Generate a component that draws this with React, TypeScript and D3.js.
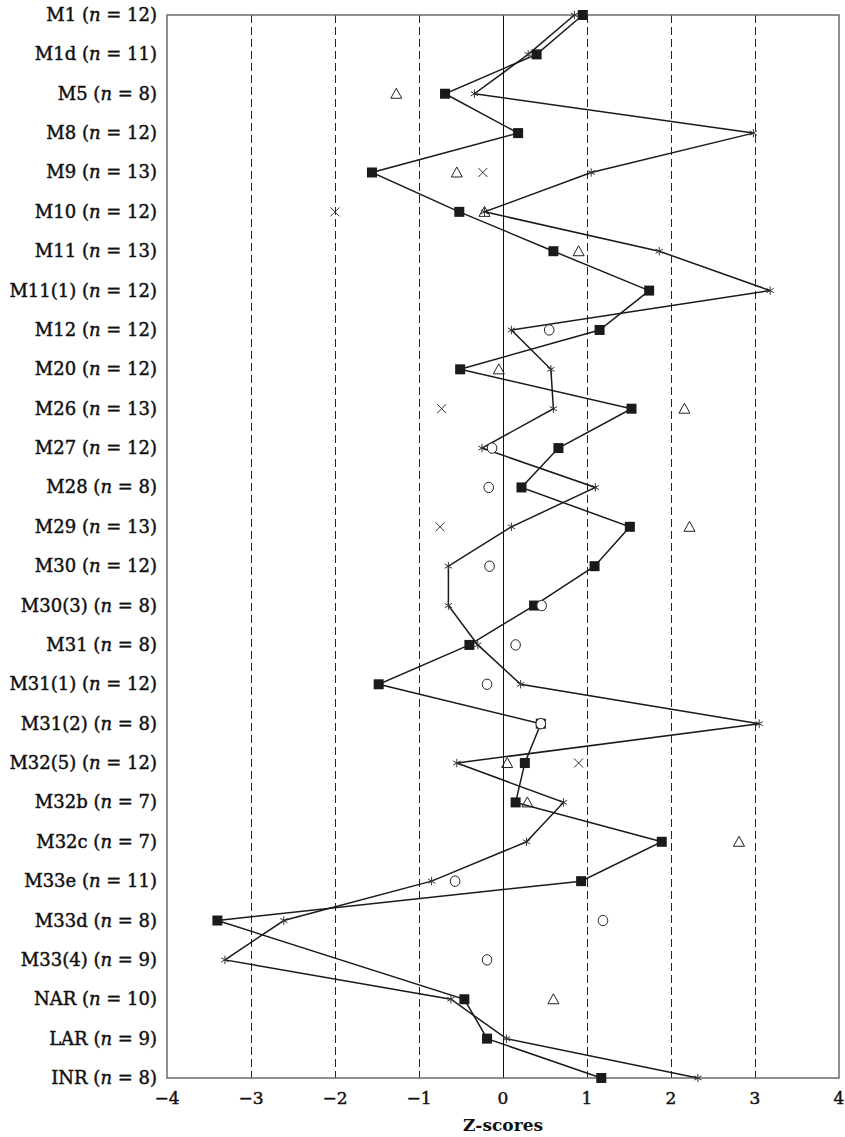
import React from "react";
import * as d3 from "d3";

// Sites (rows, top to bottom) and their sample sizes
const sites = [
  "M1", "M1d", "M5", "M8", "M9", "M10", "M11", "M11(1)", "M12", "M20",
  "M26", "M27", "M28", "M29", "M30", "M30(3)", "M31", "M31(1)", "M31(2)",
  "M32(5)", "M32b", "M32c", "M33e", "M33d", "M33(4)", "NAR", "LAR", "INR",
];
const sampleSizes = [
  12, 11, 8, 12, 13, 12, 13, 12, 12, 12, 13, 12, 8, 13, 12, 8, 8, 12, 8,
  12, 7, 7, 11, 8, 9, 10, 9, 8,
];

// Z-scores per site for each measure (null = not measured)
const squareScores: (number | null)[] = [
  0.95, 0.40, -0.69, 0.18, -1.56, -0.52, 0.60, 1.74, 1.15, -0.51, 1.53, 0.66,
  0.22, 1.51, 1.09, 0.37, -0.40, -1.48, 0.45, 0.26, 0.15, 1.89, 0.93, -3.40,
  null, -0.46, -0.19, 1.17,
];
const asteriskScores: (number | null)[] = [
  0.85, 0.30, -0.34, 2.98, 1.05, -0.22, 1.86, 3.18, 0.10, 0.57, 0.60, -0.25,
  1.10, 0.10, -0.65, -0.65, -0.30, 0.21, 3.05, -0.55, 0.72, 0.28, -0.85, -2.61,
  -3.31, -0.62, 0.04, 2.32,
];
const triangleScores: (number | null)[] = [
  null, null, -1.27, null, -0.55, -0.22, 0.90, null, null, -0.05, 2.16, null,
  null, 2.22, null, null, null, null, null, 0.05, 0.29, 2.81, null, null,
  null, 0.60, null, null,
];
const crossScores: (number | null)[] = [
  null, null, null, null, -0.24, -2.00, null, null, null, null, -0.73, null,
  null, -0.75, null, null, null, null, null, 0.90, null, null, null, null,
  null, null, null, null,
];
const circleScores: (number | null)[] = [
  null, null, null, null, null, null, null, null, 0.55, null, null, -0.13,
  -0.17, null, -0.16, 0.46, 0.15, -0.19, 0.45, null, null, null, -0.57, 1.19,
  -0.19, null, null, null,
];

const xTicks = [-4, -3, -2, -1, 0, 1, 2, 3, 4];
const gridValues = [-3, -2, -1, 1, 2, 3];

const WIDTH = 845;
const HEIGHT = 1137;
const FONT = "'DejaVu Serif', 'Liberation Serif', serif";

type Pt = { x: number; y: number };

function points(values: (number | null)[], x: d3.ScaleLinear<number, number>, y: d3.ScalePoint<string>): Pt[] {
  const out: Pt[] = [];
  values.forEach((v, i) => {
    if (v != null) out.push({ x: x(v), y: y(sites[i]) as number });
  });
  return out;
}

export default function App() {
  const left = 167;
  const right = 839;
  const top = 15;
  const bottom = 1078;

  const x = d3.scaleLinear().domain([-4, 4]).range([left, right]);
  const y = d3.scalePoint<string>().domain(sites).range([top, bottom]);

  const line = d3
    .line<Pt>()
    .x((d) => d.x)
    .y((d) => d.y);

  const sq = points(squareScores, x, y);
  const ast = points(asteriskScores, x, y);
  const tri = points(triangleScores, x, y);
  const crs = points(crossScores, x, y);
  const cir = points(circleScores, x, y);

  const ink = "#1a1a1a";
  // slight outline so the serif text reads with a heavier weight
  const textStroke = { stroke: "#111", strokeWidth: 0.45 };

  return (
    <svg
      width={WIDTH}
      height={HEIGHT}
      viewBox={`0 0 ${WIDTH} ${HEIGHT}`}
      style={{ position: "absolute", left: 0, top: 0, background: "#fff" }}
    >
      {/* reference lines */}
      {gridValues.map((g) => (
        <line
          key={g}
          x1={x(g) + 0.5}
          x2={x(g) + 0.5}
          y1={top}
          y2={bottom}
          stroke="#222"
          strokeWidth={1}
          strokeDasharray="8 4"
        />
      ))}
      <line x1={x(0) + 0.5} x2={x(0) + 0.5} y1={top} y2={bottom} stroke="#111" strokeWidth={1} />

      {/* frame */}
      <rect
        x={left}
        y={top}
        width={right - left}
        height={bottom - top}
        fill="none"
        stroke="#6b6b6b"
        strokeWidth={1.5}
      />

      {/* connected series */}
      <path d={line(sq) ?? ""} fill="none" stroke={ink} strokeWidth={1.5} />
      <path d={line(ast) ?? ""} fill="none" stroke={ink} strokeWidth={1.5} />

      {/* filled squares */}
      {sq.map((p, i) => (
        <rect key={`s${i}`} x={p.x - 5} y={p.y - 5} width={10} height={10} fill={ink} />
      ))}

      {/* asterisks */}
      {ast.map((p, i) => (
        <g key={`a${i}`} stroke="#333" strokeWidth={1}>
          {[90, 30, 150].map((deg) => {
            const r = 4.2;
            const a = (deg * Math.PI) / 180;
            return (
              <line
                key={deg}
                x1={p.x - r * Math.cos(a)}
                y1={p.y - r * Math.sin(a)}
                x2={p.x + r * Math.cos(a)}
                y2={p.y + r * Math.sin(a)}
              />
            );
          })}
        </g>
      ))}

      {/* open triangles */}
      {tri.map((p, i) => (
        <path
          key={`t${i}`}
          d={`M${p.x},${p.y - 5.5} L${p.x + 5.5},${p.y + 4.5} L${p.x - 5.5},${p.y + 4.5} Z`}
          fill="none"
          stroke="#222"
          strokeWidth={1}
        />
      ))}

      {/* crosses */}
      {crs.map((p, i) => (
        <path
          key={`c${i}`}
          d={`M${p.x - 4.5},${p.y - 4.5} L${p.x + 4.5},${p.y + 4.5} M${p.x + 4.5},${p.y - 4.5} L${p.x - 4.5},${p.y + 4.5}`}
          stroke="#333"
          strokeWidth={1}
        />
      ))}

      {/* open circles */}
      {cir.map((p, i) => (
        <ellipse
          key={`o${i}`}
          cx={p.x}
          cy={p.y}
          rx={4.8}
          ry={5.2}
          fill="#fff"
          stroke="#222"
          strokeWidth={1}
        />
      ))}

      {/* row labels */}
      {sites.map((s, i) => (
        <text
          key={s}
          x={157}
          y={(y(s) as number) + 6}
          textAnchor="end"
          fontFamily={FONT}
          fontSize={18}
          fill="#111"
          {...textStroke}
        >
          {`${s} (`}
          <tspan fontStyle="italic">n</tspan>
          {` = ${sampleSizes[i]})`}
        </text>
      ))}

      {/* x tick labels */}
      {xTicks.map((t) => (
        <text
          key={t}
          x={x(t)}
          y={1104}
          textAnchor="middle"
          fontFamily={FONT}
          fontSize={17}
          fill="#111"
          {...textStroke}
        >
          {d3.format("d")(t)}
        </text>
      ))}

      <text
        x={x(0)}
        y={1131}
        textAnchor="middle"
        fontFamily={FONT}
        fontSize={17}
        fontWeight="bold"
        fill="#111"
      >
        Z-scores
      </text>
    </svg>
  );
}
